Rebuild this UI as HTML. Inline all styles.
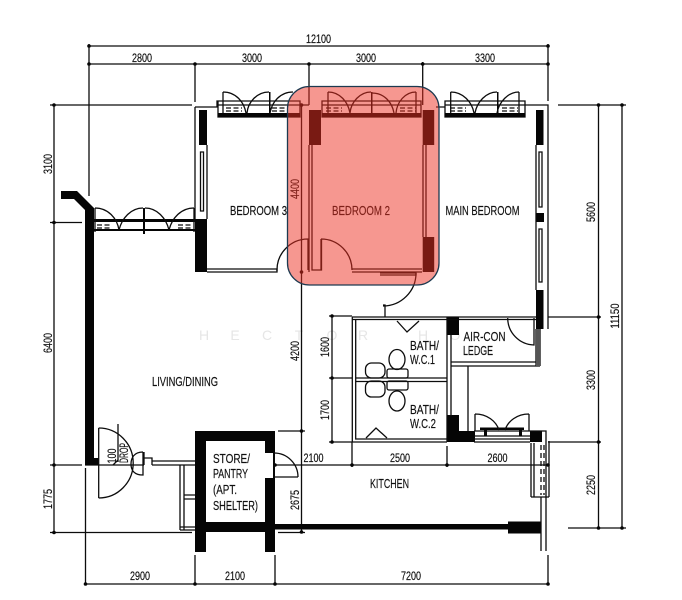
<!DOCTYPE html>
<html><head><meta charset="utf-8"><style>
html,body{margin:0;padding:0;background:#fff;width:682px;height:600px;overflow:hidden}
svg{display:block}
text{font-family:"Liberation Sans",sans-serif;fill:#111;stroke:#111;stroke-width:.18}
.b{filter:blur(.35px)}
.l{fill:none;stroke:#0c0c0c;stroke-width:1.3}
.k{fill:#050505;stroke:none}
</style></head><body>
<svg width="682" height="600" viewBox="0 0 682 600" xmlns="http://www.w3.org/2000/svg">
<rect width="682" height="600" fill="#fff"/>
<g class="b">
<!-- watermark -->
<g font-size="14" text-anchor="middle">
<text x="204" y="340" style="fill:#e6e6e6;stroke:none">H</text><text x="235" y="340" style="fill:#e6e6e6;stroke:none">E</text><text x="267" y="340" style="fill:#e6e6e6;stroke:none">C</text><text x="299" y="340" style="fill:#e6e6e6;stroke:none">T</text><text x="332" y="340" style="fill:#e6e6e6;stroke:none">O</text><text x="363" y="340" style="fill:#e6e6e6;stroke:none">R</text><text x="423" y="340" style="fill:#e6e6e6;stroke:none">H</text><text x="455" y="340" style="fill:#e6e6e6;stroke:none">O</text>
</g>
<!-- dimension lines -->
<path class="l" d="M88 46H549M88 64H549M89 44V196M195 64V102M309 64V105M422.7 62V105M548 44V101
M54 105V532M50 105H192M50 222.5H82M50 465H82M85 465H144M50 532.5H192M278 532.5H305M278 431H305
M558 105H626M598.5 105V528M622 105V528M568 528H626M548 442H601M548 317H601
M301.5 105V532M85.5 468V584M85 584H548M195 555V584M275 555V584M548 555V584
M275 465H548M352 442V467M447 446V467M332 316V442M329 316H352M329 378H352M329 442H352"/>
<g class="k">
<circle cx="89" cy="46" r="1.8"/><circle cx="89" cy="64" r="1.8"/><circle cx="195" cy="64" r="1.8"/><circle cx="309" cy="64" r="1.8"/><circle cx="422.7" cy="64" r="1.8"/><circle cx="548" cy="46" r="1.8"/><circle cx="548" cy="64" r="1.8"/>
<circle cx="54" cy="105" r="1.8"/><circle cx="54" cy="222.5" r="1.8"/><circle cx="54" cy="465" r="1.8"/><circle cx="54" cy="532.5" r="1.8"/>
<circle cx="598.5" cy="105" r="1.8"/><circle cx="622" cy="105" r="1.8"/><circle cx="598.5" cy="317" r="1.8"/><circle cx="598.5" cy="442" r="1.8"/><circle cx="598.5" cy="528" r="1.8"/><circle cx="622" cy="528" r="1.8"/>
<circle cx="301.5" cy="105" r="1.8"/><circle cx="301.5" cy="272" r="1.8"/><circle cx="301.5" cy="431" r="1.8"/><circle cx="301.5" cy="532" r="1.8"/>
<circle cx="85.5" cy="584" r="1.8"/><circle cx="195" cy="584" r="1.8"/><circle cx="275" cy="584" r="1.8"/><circle cx="548" cy="584" r="1.8"/>
<circle cx="275" cy="465" r="1.8"/><circle cx="352" cy="465" r="1.8"/><circle cx="447" cy="465" r="1.8"/><circle cx="548" cy="465" r="1.8"/>
<circle cx="332" cy="316" r="1.8"/><circle cx="332" cy="378" r="1.8"/><circle cx="332" cy="442" r="1.8"/>
<!-- walls -->
<polygon points="61,191 77,191 94,208 94,465 85,465 85,210 74,199 61,199"/>
<rect x="199" y="110" width="8" height="35"/><rect x="195" y="219" width="12" height="53"/>
<rect x="309" y="110" width="12" height="35"/><rect x="422.7" y="110" width="11.500" height="35"/><rect x="422.7" y="237" width="11.500" height="35"/>
<rect x="536" y="110" width="7.500" height="35"/><rect x="536" y="213" width="8" height="9"/><rect x="536" y="290" width="7.500" height="39"/>
<rect x="447" y="317" width="12" height="18"/><rect x="447" y="415" width="12" height="27"/><rect x="447" y="431" width="28" height="11"/><rect x="530" y="431" width="12" height="11"/>
<path d="M195 431H275V552H265V532H206V552H195ZM206 441V522H265V478H273V453H265V441Z" fill-rule="evenodd"/>
<rect x="275" y="524" width="234" height="5.500"/><rect x="508" y="521.5" width="33" height="12"/>
<rect x="85" y="458" width="14" height="7"/>
</g>
<!-- thin plan lines -->
<path class="l" d="M195 107H217V101H300V105H309M195 107V219M207 145V219M322 105V101H421V105M436 107H445V101H525V105H548V329
M218 101V117H300V105M322 101V117H421V105M445 101V117H525V105M218 105H300M322 105H421M445 105H525
M200.5 152H203.5V211H200.5ZM539 152H542V207H539ZM539 229H542V282H539ZM536 145V290
M207 269H277V272H207M309 145V272M312 145V270H321.5V239M423 145V237M426 145V237M352 269H422M352 272H422
M380 273H416V275H380M383 305H385V317H383
M352 317H536M352 319.5H536M352.3 317V442H447M355.7 320V439H447M355.7 378H447M355.7 381.5H447M447 317V442M451 335V416
M536 329V366M540 329V366M451 362H536M451 366H540M451 335V362M468 366V431M451 366V416
M474 431H530M474 436H530M474 439H530M474 442H530M530 431H546V442
M531 443V497M534 443V497M546 441V497M549 441V497M531 497H549M541 497V551M546 497V551
M152 461H195M152 465H195M144 458H152V465M144 452V465
M180 465V530M184 465V530M184 495H195M184 499H195M180 527H195M180 530H195
M274 453V477H298M98.7 428V498"/>
<path class="l" stroke-dasharray="5 3" d="M541 445V495M544 445V495"/>
<path class="k" d="M480 427.5H524V430H480ZM484 430H487V436H484ZM519 430H522V436H519ZM218 113H300V117H218ZM322 113H421V117H322ZM445 113H525V117H445ZM94 219H195V222H94ZM94 229H195V231H94ZM143 208H145V234H143ZM269 92H270.5V116H269ZM371 92H372.5V116H371ZM497 92H498.5V116H497Z"/>
<rect x="536" y="329" width="4" height="37" fill="#555"/>
<!-- window dashes -->
<path class="l" stroke-dasharray="5 2.5" d="M226 108H242M226 111H242M272 108H288M272 111H288M326 108H342M326 111H342M400 108H416M400 111H416M450 108H466M450 111H466M502 108H518M502 111H518M97 225H110M97 228H110M178 225H192M178 228H192"/>
<!-- door arcs -->
<path class="l" d="M223 92V113M223 92C236 92 244 102 246 113M269 92C257 92 248 102 247 113M293 92C280 92 272 102 270 113
M328 92V113M328 92C340 92 348 102 350 113M371 92C360 92 351 102 350 113M372 93C384 93 392 102 394 113M416 92C405 92 397 102 396 113M416 92V113
M450.7 92V113M450.7 92C463 92 472 102 474 113M497 92C486 92 477 102 475 113M519 92C508 92 499 102 497 113M519 92V113
M95 208V232M95 208C108 208 117 218 119 230M143 208C131 208 122 218 119 230M145 208C157 208 166 218 169 230M194 208C181 208 172 218 169 230M194 208V232
M277 271A31 31 0 0 1 308 239V270M321 239V270M321 239A31 31 0 0 1 352 270M416 273A33 33 0 0 1 383 306
M507.7 318A27 27 0 0 0 534 345V318
M475 414V431M475 414C487 414 496 421 499 430M529 414V431M529 414C517 414 508 421 505 430
M274 453A24 24 0 0 1 298 477M98.7 428A34.5 35 0 0 1 98.7 498M143 452C134 452 131 458 131 464C131 470 134 475 143 475V452
M397 321L407 332L419 321M366 438L376 428L387 438"/>
<!-- fixtures -->
<ellipse class="l" cx="397" cy="359.5" rx="8" ry="10"/><ellipse class="l" cx="397" cy="401" rx="8" ry="10"/>
<rect class="l" x="387" y="369" width="21" height="9" rx="2"/><rect class="l" x="387" y="381" width="21" height="9" rx="2"/>
<rect class="l" x="365.5" y="363" width="19.500" height="15" rx="6"/><rect class="l" x="365.5" y="381" width="19.500" height="16" rx="6"/>
<path class="l" d="M118 424V462M113 465L118 460"/>
<!-- labels -->
<g font-size="11.5" text-anchor="middle">
<text x="318.500" y="43" textLength="25" lengthAdjust="spacingAndGlyphs">12100</text>
<text x="142" y="62" textLength="20" lengthAdjust="spacingAndGlyphs">2800</text>
<text x="252" y="62" textLength="20" lengthAdjust="spacingAndGlyphs">3000</text>
<text x="366" y="62" textLength="20" lengthAdjust="spacingAndGlyphs">3000</text>
<text x="485" y="62" textLength="20" lengthAdjust="spacingAndGlyphs">3300</text>
<text x="140" y="580" textLength="20" lengthAdjust="spacingAndGlyphs">2900</text>
<text x="235" y="580" textLength="20" lengthAdjust="spacingAndGlyphs">2100</text>
<text x="411" y="580" textLength="20" lengthAdjust="spacingAndGlyphs">7200</text>
<text x="313.500" y="462" textLength="20" lengthAdjust="spacingAndGlyphs">2100</text>
<text x="400" y="462" textLength="20" lengthAdjust="spacingAndGlyphs">2500</text>
<text x="497.500" y="462" textLength="20" lengthAdjust="spacingAndGlyphs">2600</text>
<text transform="translate(52 164) rotate(-90)" textLength="20" lengthAdjust="spacingAndGlyphs">3100</text>
<text transform="translate(52 343) rotate(-90)" textLength="20" lengthAdjust="spacingAndGlyphs">6400</text>
<text transform="translate(52 499) rotate(-90)" textLength="20" lengthAdjust="spacingAndGlyphs">1775</text>
<text transform="translate(299 189) rotate(-90)" textLength="20" lengthAdjust="spacingAndGlyphs">4400</text>
<text transform="translate(299 351) rotate(-90)" textLength="20" lengthAdjust="spacingAndGlyphs">4200</text>
<text transform="translate(299 500) rotate(-90)" textLength="20" lengthAdjust="spacingAndGlyphs">2675</text>
<text transform="translate(329 347) rotate(-90)" textLength="20" lengthAdjust="spacingAndGlyphs">1600</text>
<text transform="translate(329 410) rotate(-90)" textLength="20" lengthAdjust="spacingAndGlyphs">1700</text>
<text transform="translate(595 212) rotate(-90)" textLength="20" lengthAdjust="spacingAndGlyphs">5600</text>
<text transform="translate(595 380) rotate(-90)" textLength="20" lengthAdjust="spacingAndGlyphs">3300</text>
<text transform="translate(595 485) rotate(-90)" textLength="20" lengthAdjust="spacingAndGlyphs">2250</text>
<text transform="translate(619 316) rotate(-90)" textLength="25" lengthAdjust="spacingAndGlyphs">11150</text>
<text transform="translate(116 456) rotate(-90)" textLength="15" lengthAdjust="spacingAndGlyphs">100</text>
<text transform="translate(128 453) rotate(-90)" textLength="20" lengthAdjust="spacingAndGlyphs">DROP</text>
</g>
<g font-size="13">
<text x="230" y="215" textLength="57" lengthAdjust="spacingAndGlyphs">BEDROOM 3</text>
<text x="332" y="215" textLength="58" lengthAdjust="spacingAndGlyphs">BEDROOM 2</text>
<text x="445.500" y="215" textLength="74" lengthAdjust="spacingAndGlyphs">MAIN BEDROOM</text>
<text x="152" y="386" textLength="66" lengthAdjust="spacingAndGlyphs">LIVING/DINING</text>
<text x="213" y="463" textLength="37" lengthAdjust="spacingAndGlyphs">STORE/</text>
<text x="213" y="478" textLength="35" lengthAdjust="spacingAndGlyphs">PANTRY</text>
<text x="213" y="494" textLength="24" lengthAdjust="spacingAndGlyphs">(APT.</text>
<text x="213" y="510" textLength="45" lengthAdjust="spacingAndGlyphs">SHELTER)</text>
<text x="370" y="488" textLength="39" lengthAdjust="spacingAndGlyphs">KITCHEN</text>
<text x="410" y="350" textLength="29" lengthAdjust="spacingAndGlyphs">BATH/</text>
<text x="410" y="364" textLength="25" lengthAdjust="spacingAndGlyphs">W.C.1</text>
<text x="410" y="414" textLength="29" lengthAdjust="spacingAndGlyphs">BATH/</text>
<text x="410" y="428" textLength="26" lengthAdjust="spacingAndGlyphs">W.C.2</text>
<text x="463.500" y="341" textLength="42" lengthAdjust="spacingAndGlyphs">AIR-CON</text>
<text x="463" y="355" textLength="30" lengthAdjust="spacingAndGlyphs">LEDGE</text>
</g>
</g>
<!-- highlight overlay -->
<rect x="287.500" y="86.500" width="151.500" height="198.500" rx="22" ry="22" fill="rgb(238,48,34)" fill-opacity=".5" stroke="#1d3a50" stroke-width="1.3"/>
</svg>
</body></html>
